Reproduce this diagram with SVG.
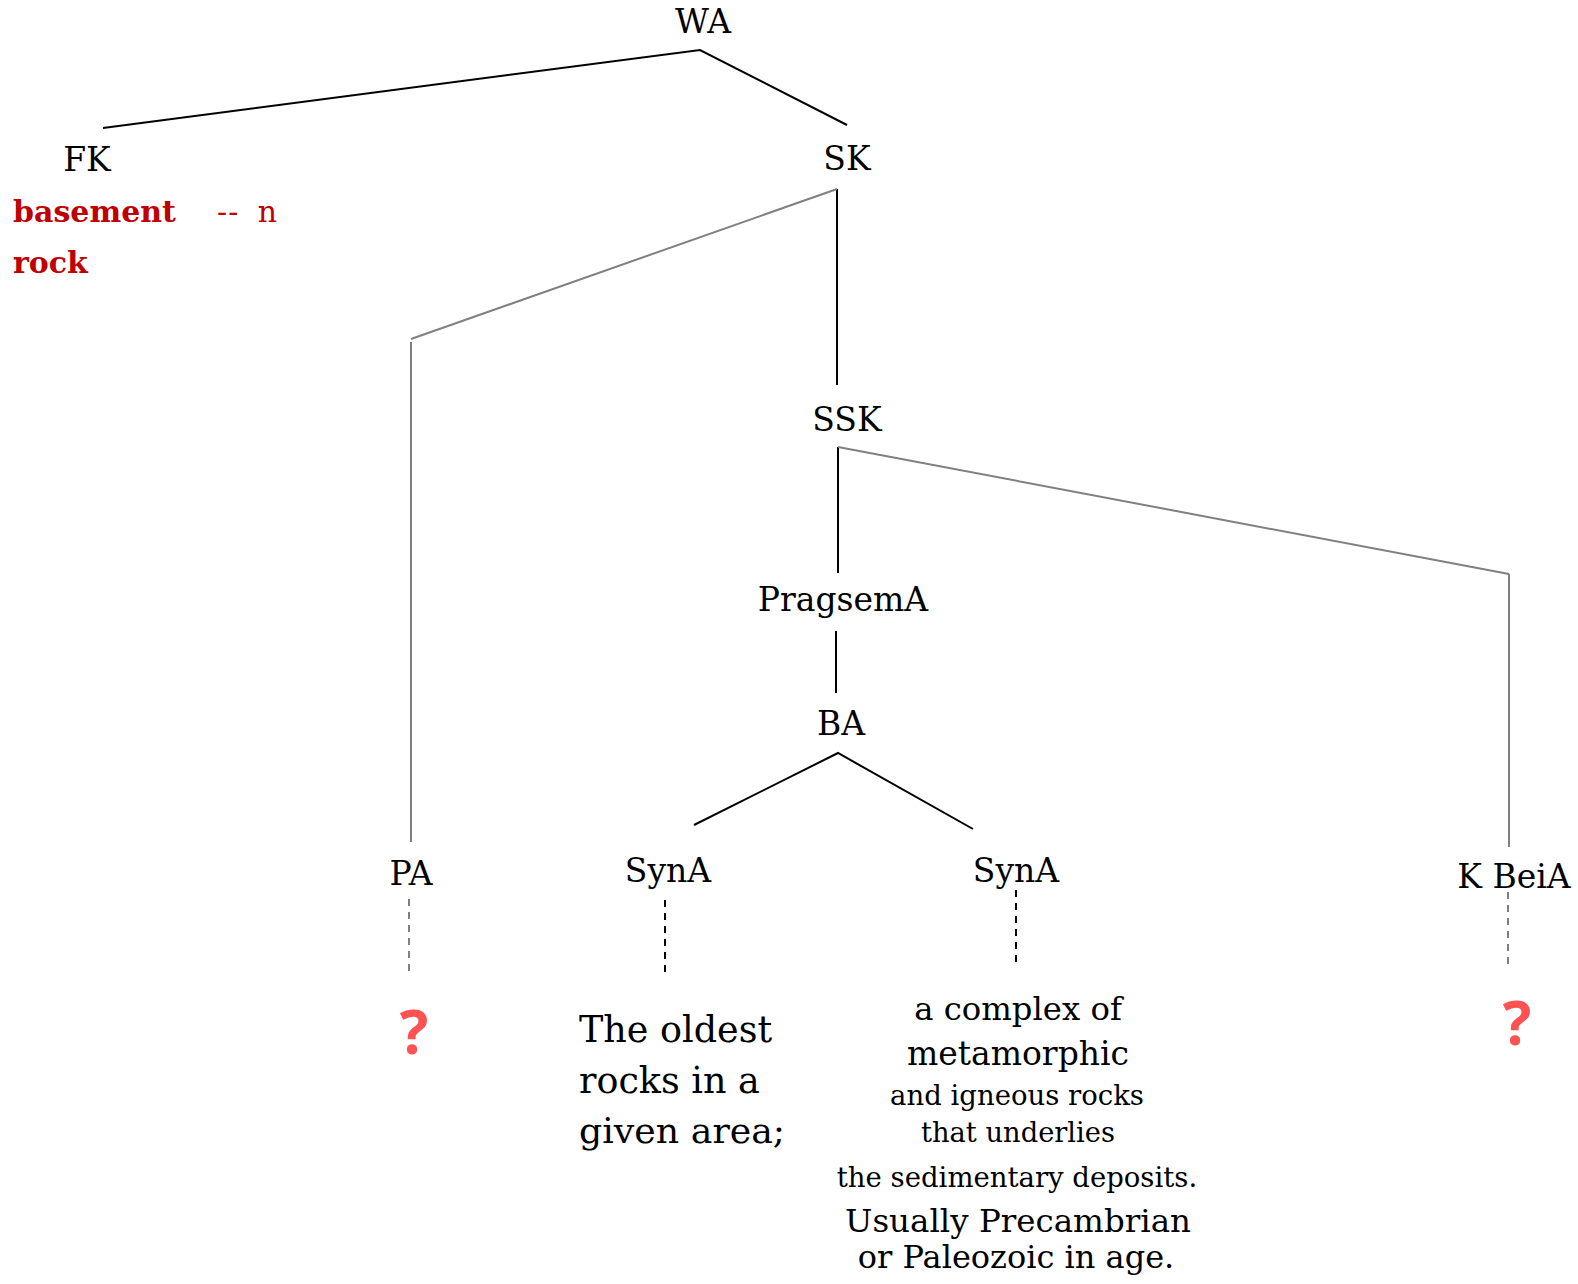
<svg xmlns="http://www.w3.org/2000/svg" width="1578" height="1284" viewBox="0 0 1578 1284">
  <style>
    .lbl { font-family: "DejaVu Serif", "Liberation Serif", serif; font-size: 33px; fill: #000; text-anchor: middle; }
    .red { font-family: "DejaVu Serif", "Liberation Serif", serif; font-size: 30px; fill: #c00000; }
    .redb { font-weight: bold; }
    .q { font-family: "Open Sans", "Noto Sans", sans-serif; font-weight: bold; font-size: 60px; fill: #ff5252; text-anchor: middle; }
    .def { font-family: "DejaVu Serif", "Liberation Serif", serif; fill: #000; }
    .blk { stroke: #000; stroke-width: 2; fill: none; }
    .gry { stroke: #808080; stroke-width: 2; fill: none; }
    .dash { stroke-dasharray: 7 6; }
  </style>
  <rect width="1578" height="1284" fill="#fff"/>
  <g id="connectors">
    <polyline class="blk" points="103,128 700,50 847,125"/>
    <line class="blk" x1="837" y1="189" x2="837" y2="385"/>
    <line class="gry" x1="837" y1="189" x2="411" y2="339"/>
    <line class="gry" x1="411" y1="342" x2="411" y2="842"/>
    <line class="blk" x1="838" y1="447" x2="838" y2="573"/>
    <line class="gry" x1="838" y1="447" x2="1509" y2="574"/>
    <line class="gry" x1="1509" y1="574" x2="1509" y2="847"/>
    <line class="blk" x1="836" y1="631" x2="836" y2="693"/>
    <polyline class="blk" points="694,825 838,753 973,829"/>
    <line class="gry dash" x1="409" y1="899" x2="409" y2="973"/>
    <line class="blk dash" x1="665" y1="900" x2="665" y2="974"/>
    <line class="blk dash" x1="1016" y1="890" x2="1016" y2="964"/>
    <line class="gry dash" x1="1508" y1="892" x2="1508" y2="967"/>
  </g>
  <g id="node-WA"><text class="lbl" x="703" y="33" font-size="34">WA</text></g>
  <g id="node-FK">
    <text class="lbl" x="87" y="171">FK</text>
    <text class="red redb" x="13" y="222">basement</text>
    <text class="red" x="217" y="222" font-size="35" word-spacing="8" letter-spacing="1">-- n</text>
    <text class="red redb" x="13" y="273">rock</text>
  </g>
  <g id="node-SK"><text class="lbl" x="847" y="170">SK</text></g>
  <g id="node-SSK"><text class="lbl" x="847" y="431">SSK</text></g>
  <g id="node-PragsemA"><text class="lbl" x="843" y="611">PragsemA</text></g>
  <g id="node-BA"><text class="lbl" x="841" y="735">BA</text></g>
  <g id="node-PA">
    <text class="lbl" x="411" y="885">PA</text>
    <text class="q" x="414" y="1054">?</text>
  </g>
  <g id="node-SynA-1">
    <text class="lbl" x="668" y="882">SynA</text>
    <text class="def" font-size="36.5" x="579" y="1042">The oldest</text>
    <text class="def" font-size="36.5" x="579" y="1093">rocks in a</text>
    <text class="def" font-size="36.3" x="579" y="1143">given area;</text>
  </g>
  <g id="node-SynA-2">
    <text class="lbl" x="1016" y="882">SynA</text>
    <g class="def" text-anchor="middle">
      <text font-size="32.3" x="1018" y="1020">a complex of</text>
      <text font-size="33" x="1018" y="1065">metamorphic</text>
      <text font-size="27.5" x="1017" y="1105">and igneous rocks</text>
      <text font-size="27.3" x="1018" y="1142">that underlies</text>
      <text font-size="27.5" x="1017" y="1187">the sedimentary deposits.</text>
      <text font-size="32.5" x="1018" y="1232">Usually Precambrian</text>
      <text font-size="32" x="1016" y="1268">or Paleozoic in age.</text>
    </g>
  </g>
  <g id="node-KBeiA">
    <text class="lbl" x="1514" y="888">K BeiA</text>
    <text class="q" x="1517" y="1045">?</text>
  </g>
</svg>
